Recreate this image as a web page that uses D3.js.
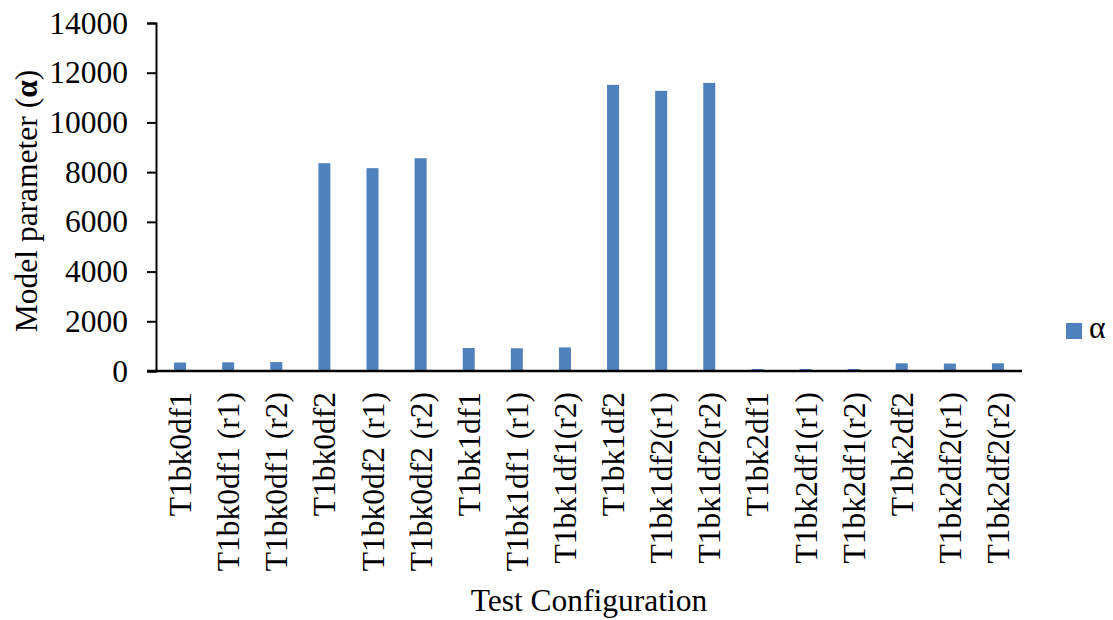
<!DOCTYPE html>
<html>
<head>
<meta charset="utf-8">
<script src="https://cdn.jsdelivr.net/npm/d3@7"></script>
<style>
  body { margin: 0; background: #fff; }
  text { font-family: "Liberation Serif", "Times New Roman", serif; fill: #000; }
</style>
</head>
<body>
<svg id="chart" width="1113" height="620"></svg>
<script>
// categories along the x axis
const configs = [
  "T1bk0df1", "T1bk0df1 (r1)", "T1bk0df1 (r2)",
  "T1bk0df2", "T1bk0df2 (r1)", "T1bk0df2 (r2)",
  "T1bk1df1", "T1bk1df1 (r1)", "T1bk1df1(r2)",
  "T1bk1df2", "T1bk1df2(r1)", "T1bk1df2(r2)",
  "T1bk2df1", "T1bk2df1(r1)", "T1bk2df1(r2)",
  "T1bk2df2", "T1bk2df2(r1)", "T1bk2df2(r2)"
]
// alpha values
const alphaValues = [
  340, 350, 360,
  8360, 8160, 8560,
  925, 915, 950,
  11510, 11270, 11590,
  80, 80, 80,
  310, 300, 310
]
const yTicks = [0, 2000, 4000, 6000, 8000, 10000, 12000, 14000]

const svg = d3.select("#chart")
const plotLeft = 156, plotRight = 1022, plotTop = 23, plotBottom = 371
const fontSize = "31.5px"

const x = d3.scaleBand()
  .domain(configs)
  .range([plotLeft, plotRight])

const y = d3.scaleLinear()
  .domain([0, 14000])
  .range([plotBottom, plotTop])

const barColor = "#4f81bd"
const barW = 12

// bars
svg.append("g")
  .selectAll("rect")
  .data(configs)
  .enter()
  .append("rect")
  .attr("x", function(d) { return x(d) + x.bandwidth() / 2 - barW / 2 })
  .attr("y", function(d, i) { return y(alphaValues[i]) })
  .attr("width", barW)
  .attr("height", function(d, i) { return plotBottom - y(alphaValues[i]) })
  .attr("fill", barColor)

// y axis
const yAxis = svg.append("g")
  .attr("transform", "translate(" + plotLeft + ",0)")
  .call(d3.axisLeft(y).tickValues(yTicks).tickSize(9).tickPadding(19).tickFormat(d3.format("d")))
yAxis.select(".domain").attr("stroke", "#000").attr("stroke-width", 2)
yAxis.selectAll(".tick line").attr("stroke", "#000").attr("stroke-width", 2)
yAxis.selectAll("text")
  .style("font-family", "Liberation Serif, serif")
  .style("font-size", fontSize)

// x axis
const xAxis = svg.append("g")
  .attr("transform", "translate(0," + plotBottom + ")")
  .call(d3.axisBottom(x).tickSize(0).tickPadding(0))
xAxis.select(".domain").attr("stroke", "#000").attr("stroke-width", 2.5)
  .attr("d", "M" + (plotLeft - 9) + ",0H" + plotRight)
xAxis.selectAll("text")
  .style("font-family", "Liberation Serif, serif")
  .style("font-size", fontSize)
  .style("text-anchor", "end")
  .attr("transform", "rotate(-90)")
  .attr("x", -21)
  .attr("y", 0)
  .attr("dy", "0.35em")

// axis titles
svg.append("text")
  .attr("transform", "translate(37,201) rotate(-90)")
  .attr("text-anchor", "middle")
  .style("font-size", fontSize)
  .html("Model parameter (<tspan font-weight='bold'>α</tspan>)")

svg.append("text")
  .attr("x", 589)
  .attr("y", 611)
  .attr("text-anchor", "middle")
  .style("font-size", fontSize)
  .text("Test Configuration")

// legend
svg.append("rect")
  .attr("x", 1066)
  .attr("y", 323)
  .attr("width", 16)
  .attr("height", 16)
  .attr("fill", barColor)
svg.append("text")
  .attr("x", 1089)
  .attr("y", 338)
  .style("font-size", fontSize)
  .text("α")
</script>
</body>
</html>
